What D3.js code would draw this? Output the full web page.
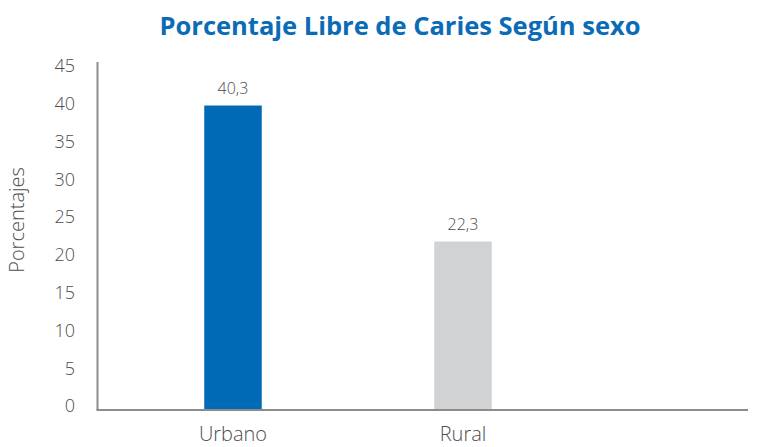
<!DOCTYPE html>
<html lang="es">
<head>
<meta charset="UTF-8">
<script src="https://d3js.org/d3.v7.min.js"></script>
<style>
  body { margin: 0; background: #fff; }
  text { font-family: "Open Sans", "Noto Sans", sans-serif; }
  .tick-label { font-size: 18px; fill: #4d4d4d; font-weight: 300; }
</style>
</head>
<body>
<div id="chart"></div>
<script>
// data
const categories = ["Urbano", "Rural"];
const values = [40.3, 22.3];
const valueLabels = ["40,3", "22,3"];
const yTicks = [0, 5, 10, 15, 20, 25, 30, 35, 40, 45];
const colors = ["#006ab7", "#d1d2d4"];

const width = 761, height = 447;
const svg = d3.select("#chart").append("svg")
  .attr("width", width)
  .attr("height", height);

const x0 = 97.5, x1 = 748, yBase = 410;

const y = d3.scaleLinear().domain([0, 45]).range([yBase, 70]);
const x = d3.scaleBand()
  .domain(categories)
  .range([118, 578])
  .paddingInner(0.75)
  .paddingOuter(0.375);

// title
svg.append("text")
  .attr("x", 400)
  .attr("y", 35)
  .attr("text-anchor", "middle")
  .style("font-size", "25.5px")
  .style("font-weight", "bold")
  .style("fill", "#0a6bb6")
  .text("Porcentaje Libre de Caries Según sexo");

// y axis title
svg.append("text")
  .attr("transform", "translate(24,220) rotate(-90)")
  .attr("text-anchor", "middle")
  .attr("class", "tick-label")
  .style("font-size", "20px")
  .text("Porcentajes");

// y tick labels
svg.selectAll("text.ytick")
  .data(yTicks)
  .join("text")
  .attr("class", "ytick tick-label")
  .attr("x", 75)
  .attr("y", d => y(d) - 4)
  .attr("dy", "0.35em")
  .attr("text-anchor", "end")
  .text(d => d);

// bars
svg.selectAll("rect.bar")
  .data(categories)
  .join("rect")
  .attr("class", "bar")
  .attr("x", d => x(d))
  .attr("width", x.bandwidth())
  .attr("y", (d, i) => y(values[i]))
  .attr("height", (d, i) => yBase - y(values[i]))
  .attr("fill", (d, i) => colors[i]);

// value labels
svg.selectAll("text.vlabel")
  .data(categories)
  .join("text")
  .attr("class", "vlabel tick-label")
  .attr("x", d => x(d) + x.bandwidth() / 2)
  .attr("y", (d, i) => y(values[i]) - 12)
  .attr("text-anchor", "middle")
  .style("font-size", "16px")
  .text((d, i) => valueLabels[i]);

// category labels
svg.selectAll("text.xlabel")
  .data(categories)
  .join("text")
  .attr("class", "xlabel tick-label")
  .attr("x", d => x(d) + x.bandwidth() / 2)
  .attr("y", 441)
  .attr("text-anchor", "middle")
  .style("font-size", "20px")
  .text(d => d);

// axis lines
svg.append("line")
  .attr("x1", x0).attr("x2", x0)
  .attr("y1", 62).attr("y2", yBase)
  .attr("stroke", "#8c8c8c").attr("stroke-width", 2);
svg.append("line")
  .attr("x1", x0 - 1).attr("x2", x1)
  .attr("y1", yBase).attr("y2", yBase)
  .attr("stroke", "#8c8c8c").attr("stroke-width", 2);
</script>
</body>
</html>
